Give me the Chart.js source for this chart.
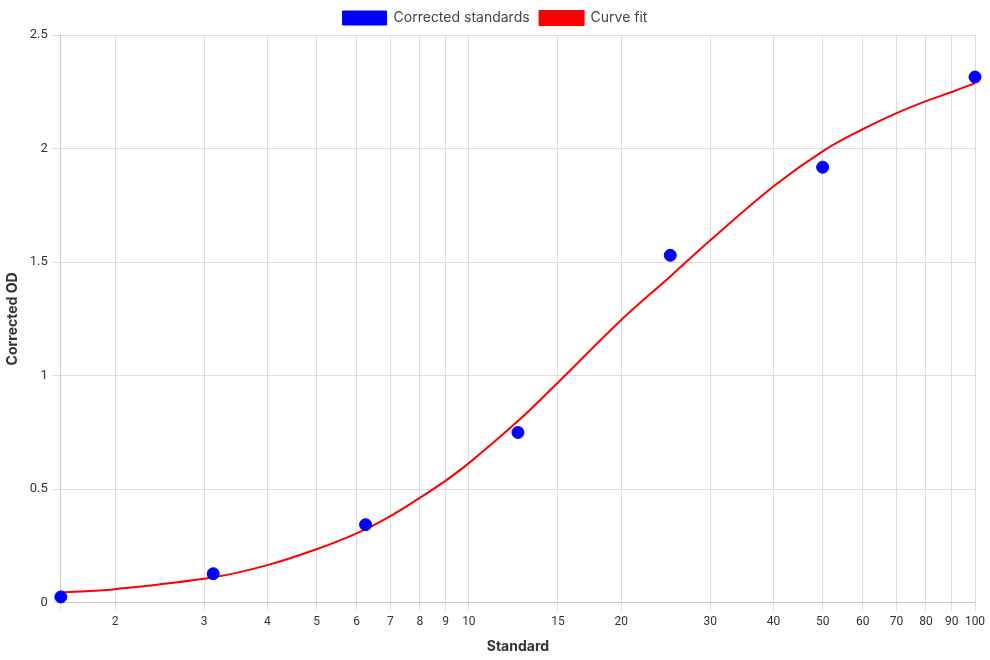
<!DOCTYPE html>
<html lang="en">
<head>
    <meta charset="UTF-8">
    <title>Standard curve</title>
    <script src="https://cdn.jsdelivr.net/npm/chart.js"></script>
    <style>
        body { margin: 0; background: #fff; }
        .chart-box { width: 990px; height: 660px; }
    </style>
</head>
<body>
    <div class="chart-box">
        <canvas id="curve"></canvas>
    </div>

    <script>
        // standards (dilution series) and measured OD
        const standardX = [1.5625, 3.125, 6.25, 12.5, 25, 50, 100];
        const standardOD = [0.026, 0.128, 0.344, 0.75, 1.53, 1.918, 2.315];

        // fitted curve
        const fitX = [1.5625, 2, 3.125, 4, 5, 6, 7, 8, 9, 10, 12.5, 15, 20, 25, 30, 40, 50, 60, 70, 80, 90, 100];
        const fitOD = [0.045, 0.060, 0.112, 0.166, 0.236, 0.306, 0.382, 0.462, 0.538, 0.615, 0.80, 0.97, 1.245, 1.437, 1.596, 1.834, 1.988, 2.085, 2.156, 2.209, 2.249, 2.288];

        // axis ticks
        const xTicks = [2, 3, 4, 5, 6, 7, 8, 9, 10, 15, 20, 30, 40, 50, 60, 70, 80, 90, 100];
        const xMin = 1.5625;
        const xMax = 100;

        const toPoints = (xs, ys) => xs.map((x, i) => ({ x: x, y: ys[i] }));

        const titleFont = { family: "Inter, 'Open Sans', sans-serif", size: 14, weight: 'bold' };

        new Chart(document.getElementById('curve').getContext('2d'), {
            type: 'scatter',
            data: {
                datasets: [{
                    label: 'Corrected standards',
                    data: toPoints(standardX, standardOD),
                    backgroundColor: '#0000ff',
                    borderColor: '#0000ff',
                    pointRadius: 6,
                    pointHoverRadius: 6,
                    clip: false
                }, {
                    label: 'Curve fit',
                    data: toPoints(fitX, fitOD),
                    showLine: true,
                    backgroundColor: '#ff0000',
                    borderColor: '#ff0000',
                    borderWidth: 2,
                    pointRadius: 0,
                    tension: 0.4
                }]
            },
            options: {
                responsive: true,
                maintainAspectRatio: false,
                animation: false,
                layout: { padding: { top: 1 } },
                plugins: {
                    legend: {
                        labels: {
                            boxWidth: 44,
                            boxHeight: 14,
                            color: '#444',
                            font: { family: "Inter, 'Open Sans', sans-serif", size: 14 }
                        }
                    },
                    tooltip: { enabled: false }
                },
                scales: {
                    x: {
                        type: 'logarithmic',
                        min: xMin,
                        max: xMax,
                        title: { display: true, text: 'Standard', color: '#333', font: titleFont, padding: { top: 5, bottom: 5 } },
                        grid: { color: '#dddddd' },
                        afterBuildTicks: function (axis) {
                            axis.ticks = [{ value: xMin }].concat(xTicks.map(v => ({ value: v })));
                        },
                        afterFit: function (axis) {
                            axis.paddingRight = 15;
                        },
                        ticks: {
                            color: '#333',
                            font: { family: 'Roboto, sans-serif', size: 12 },
                            autoSkip: false,
                            maxRotation: 0,
                            padding: 4,
                            callback: function (value) {
                                if (value === xMin) return '';
                                return value;
                            }
                        }
                    },
                    y: {
                        min: 0,
                        max: 2.5,
                        title: { display: true, text: 'Corrected OD', color: '#333', font: titleFont },
                        grid: { color: '#dddddd' },
                        ticks: {
                            color: '#333',
                            font: { family: 'Roboto, sans-serif', size: 13 },
                            stepSize: 0.5,
                            padding: 5,
                            callback: value => String(value)
                        }
                    }
                }
            }
        });
    </script>
</body>
</html>
